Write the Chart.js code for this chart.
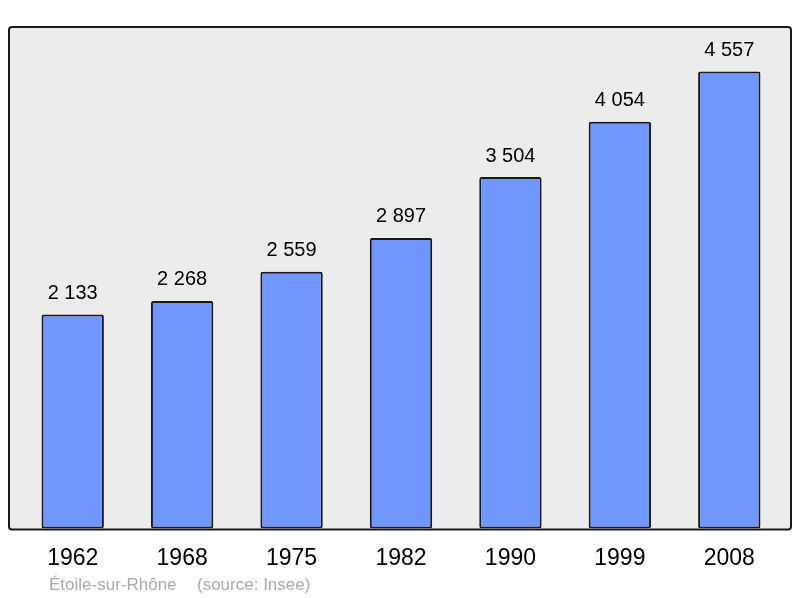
<!DOCTYPE html>
<html>
<head>
<meta charset="utf-8">
<script src="https://cdn.jsdelivr.net/npm/chart.js@4/dist/chart.umd.min.js"></script>
<style>
  html, body { margin: 0; padding: 0; background: #fff; }
  canvas { display: block; }
</style>
</head>
<body>
<canvas id="popChart" width="800" height="598"></canvas>
<script>
// Données (population par recensement)
const years = ["1962", "1968", "1975", "1982", "1990", "1999", "2008"];
const population = [2133, 2268, 2559, 2897, 3504, 4054, 4557];
const sourceText = ["Étoile-sur-Rhône", "(source: Insee)"];

// Format "2 133"
function formatNumber(n) {
  return String(n).replace(/\B(?=(\d{3})+(?!\d))/g, " ");
}

// Cadre gris + bordure noire
const framePlugin = {
  id: "frame",
  beforeDatasetsDraw(chart) {
    const { ctx, chartArea } = chart;
    ctx.save();
    ctx.fillStyle = "#ececec";
    ctx.beginPath();
    ctx.roundRect(chartArea.left - 9, chartArea.top, chartArea.width + 16, chartArea.height + 1, 3);
    ctx.fill();
    ctx.restore();
  },
  afterDatasetsDraw(chart) {
    const { ctx, chartArea } = chart;
    ctx.save();
    ctx.strokeStyle = "#1a1a1a";
    ctx.lineWidth = 2;
    ctx.beginPath();
    ctx.roundRect(chartArea.left - 9, chartArea.top, chartArea.width + 16, chartArea.height + 1, 3);
    ctx.stroke();

    // Valeurs au-dessus des barres
    ctx.fillStyle = "#000";
    ctx.font = "20px 'Liberation Sans', Arial, sans-serif";
    ctx.textAlign = "center";
    ctx.textBaseline = "middle";
    chart.getDatasetMeta(0).data.forEach((bar, i) => {
      ctx.fillText(formatNumber(population[i]), bar.x, bar.y - 21);
    });

    // Source
    ctx.fillStyle = "#aaaaaa";
    ctx.font = "17px 'Liberation Sans', Arial, sans-serif";
    ctx.textAlign = "left";
    ctx.fillText(sourceText[0], 49, 585);
    ctx.fillText(sourceText[1], 197, 585);
    ctx.restore();
  }
};

new Chart(document.getElementById("popChart"), {
  type: "bar",
  data: {
    labels: years,
    datasets: [
      {
        data: population,
        backgroundColor: "#7097ff",
        borderColor: "#1a1a1a",
        borderWidth: 2,
        borderRadius: 2,
        borderSkipped: false,
        barPercentage: 0.57,
        categoryPercentage: 1,
      },
    ],
  },
  options: {
    responsive: false,
    animation: false,
    layout: {
      padding: { left: 18, right: 16, top: 27, bottom: 10 },
    },
    plugins: {
      legend: { display: false },
      tooltip: { enabled: false },
    },
    scales: {
      x: {
        grid: { display: false, drawTicks: false },
        border: { display: false },
        ticks: {
          color: "#000",
          padding: 16,
          font: { family: "'Liberation Sans', Arial, sans-serif", size: 23 },
        },
      },
      y: {
        display: false,
        min: 0,
        max: 5000,
      },
    },
  },
  plugins: [framePlugin],
});
</script>
</body>
</html>
